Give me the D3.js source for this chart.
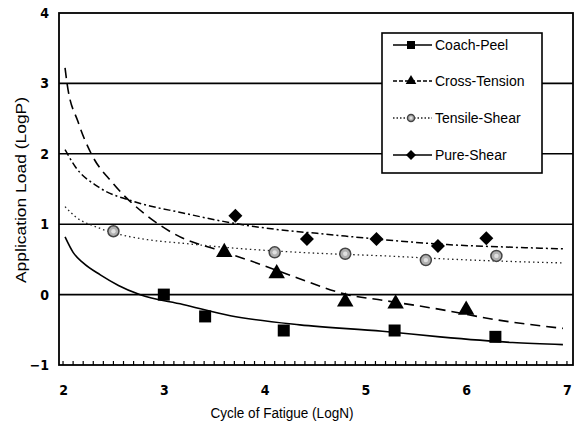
<!DOCTYPE html>
<html>
<head>
<meta charset="utf-8">
<script src="https://cdn.jsdelivr.net/npm/d3@7.9.0/dist/d3.min.js"></script>
<style>
  body { margin: 0; background: #fff; }
  svg { display: block; }
  .tick-num { font-family: "Liberation Sans Narrow", "DejaVu Sans Condensed", sans-serif; font-weight: bold; font-size: 14px; }
  .title { font-family: "Liberation Sans", Arial, sans-serif; font-size: 14px; }
  .legend text { font-family: "Liberation Sans", Arial, sans-serif; font-size: 14px; }
</style>
</head>
<body>
<div id="chart"></div>
<script>
// fitted curves: [logN, logP]
const coachCurve = [[2.02,0.82],[2.1,0.6],[2.2,0.45],[2.37,0.28],[2.55,0.13],[2.76,0.0],[3.19,-0.14],[3.66,-0.3],[4.35,-0.43],[5.17,-0.52],[5.74,-0.6],[6.46,-0.68],[6.96,-0.71]];
const crossCurve = [[2.02,3.22],[2.04,3.0],[2.15,2.45],[2.28,2.0],[2.49,1.59],[2.88,1.07],[3.19,0.8],[3.5,0.65],[3.92,0.45],[4.32,0.24],[4.82,0.0],[5.17,-0.08],[5.74,-0.21],[6.31,-0.36],[6.96,-0.48]];
const tensileCurve = [[2.02,1.25],[2.12,1.11],[2.35,0.95],[2.84,0.78],[3.18,0.73],[3.7,0.66],[4.35,0.6],[5.34,0.54],[5.74,0.51],[6.46,0.47],[6.96,0.45]];
const pureCurve = [[2.02,2.06],[2.12,1.82],[2.35,1.53],[2.71,1.32],[3.19,1.16],[3.59,1.04],[4.15,0.92],[4.52,0.87],[5.34,0.76],[5.81,0.71],[6.31,0.68],[6.96,0.65]];

// test points
const coachPts = [[3.0,0.0],[3.41,-0.31],[4.19,-0.51],[5.29,-0.51],[6.29,-0.6]];
const crossPts = [[3.6,0.6],[4.12,0.3],[4.8,-0.1],[5.3,-0.13],[6.0,-0.22]];
const tensilePts = [[2.5,0.9],[4.1,0.6],[4.8,0.58],[5.6,0.49],[6.3,0.55]];
const purePts = [[3.71,1.12],[4.42,0.79],[5.11,0.79],[5.72,0.69],[6.2,0.8]];

const xTicks = [2, 3, 4, 5, 6, 7];
const yTicks = [-1, 0, 1, 2, 3, 4];
const gridValues = [0, 1, 2, 3];
const seriesNames = ['Coach-Peel', 'Cross-Tension', 'Tensile-Shear', 'Pure-Shear'];

const width = 574;
const height = 443;
const margin = { top: 13, right: 1, bottom: 78, left: 59 };

const svg = d3.select('#chart').append('svg')
  .attr('width', width)
  .attr('height', height);

const x = d3.scaleLinear().domain([1.96, 7.06]).range([margin.left, width - margin.right]);
const y = d3.scaleLinear().domain([-1, 4]).range([height - margin.bottom, margin.top]);

// horizontal grid lines
svg.append('g')
  .selectAll('line')
  .data(gridValues)
  .join('line')
  .attr('x1', x.range()[0]).attr('x2', x.range()[1])
  .attr('y1', d => y(d)).attr('y2', d => y(d))
  .attr('stroke', '#000').attr('stroke-width', 1.6);

// plot frame
svg.append('rect')
  .attr('x', x.range()[0]).attr('y', y.range()[1])
  .attr('width', x.range()[1] - x.range()[0])
  .attr('height', y.range()[0] - y.range()[1])
  .attr('fill', 'none').attr('stroke', '#000').attr('stroke-width', 1.8);

// minor ticks on bottom axis (inward)
svg.append('g')
  .selectAll('line')
  .data(d3.range(20, 71).map(d => d / 10))
  .join('line')
  .attr('x1', d => x(d)).attr('x2', d => x(d))
  .attr('y1', y(-1)).attr('y2', y(-1) - 4)
  .attr('stroke', '#000').attr('stroke-width', 1.2);

// axes labels via d3 axes
const xAxis = svg.append('g')
  .attr('transform', `translate(0, ${y(-1)})`)
  .call(d3.axisBottom(x).tickValues(xTicks).tickSize(0).tickPadding(20).tickFormat(d3.format('d')));
xAxis.select('.domain').remove();
xAxis.selectAll('text').attr('class', 'tick-num').attr('fill', '#000');

const yAxis = svg.append('g')
  .attr('transform', `translate(${x.range()[0]}, 0)`)
  .call(d3.axisLeft(y).tickValues(yTicks).tickSize(0).tickPadding(10).tickFormat(d3.format('d')));
yAxis.select('.domain').remove();
yAxis.selectAll('text').attr('class', 'tick-num').attr('fill', '#000');

svg.append('text')
  .attr('class', 'title')
  .attr('x', 282).attr('y', 418)
  .attr('text-anchor', 'middle')
  .attr('textLength', 143)
  .attr('lengthAdjust', 'spacingAndGlyphs')
  .text('Cycle of Fatigue (LogN)');

svg.append('text')
  .attr('class', 'title')
  .attr('transform', 'translate(26, 190) rotate(-90)')
  .attr('text-anchor', 'middle')
  .attr('textLength', 186)
  .attr('lengthAdjust', 'spacingAndGlyphs')
  .text('Application Load (LogP)');

const line = d3.line()
  .x(d => x(d[0]))
  .y(d => y(d[1]))
  .curve(d3.curveMonotoneX);

const styles = [
  { dash: null, width: 1.6, color: '#000' },
  { dash: '10,6', width: 1.6, color: '#000' },
  { dash: '1.5,3', width: 1.3, color: '#222' },
  { dash: '7,3,2,3', width: 1.5, color: '#000' },
];

const curves = [coachCurve, crossCurve, tensileCurve, pureCurve];
svg.append('g')
  .selectAll('path')
  .data(curves)
  .join('path')
  .attr('d', line)
  .attr('fill', 'none')
  .attr('stroke', (d, i) => styles[i].color)
  .attr('stroke-width', (d, i) => styles[i].width)
  .attr('stroke-dasharray', (d, i) => styles[i].dash);

// markers
function drawMarker(g, type, size) {
  if (type === 'square') {
    g.append('rect').attr('x', -size / 2).attr('y', -size / 2)
      .attr('width', size).attr('height', size).attr('fill', '#000');
  } else if (type === 'triangle') {
    g.append('path').attr('d', d3.symbol(d3.symbolTriangle, size * size * 0.6)).attr('fill', '#000');
  } else if (type === 'circle') {
    g.append('circle').attr('r', size / 2).attr('fill', '#b0b0b0')
      .attr('stroke', '#444').attr('stroke-width', 1.5);
    g.append('circle').attr('r', size / 5).attr('fill', '#e0e0e0');
  } else {
    const s = size / Math.SQRT2;
    g.append('rect').attr('x', -s / 2).attr('y', -s / 2)
      .attr('width', s).attr('height', s)
      .attr('transform', 'rotate(45)').attr('fill', '#000');
  }
}

const markerTypes = ['square', 'triangle', 'circle', 'diamond'];
const markerSizes = [12, 14, 11, 14];
const pointSets = [coachPts, crossPts, tensilePts, purePts];

pointSets.forEach((pts, i) => {
  svg.append('g')
    .selectAll('g')
    .data(pts)
    .join('g')
    .attr('transform', d => `translate(${x(d[0])}, ${y(d[1])})`)
    .each(function () { drawMarker(d3.select(this), markerTypes[i], markerSizes[i]); });
});

// legend
const legend = svg.append('g').attr('class', 'legend');
legend.append('rect')
  .attr('x', 382).attr('y', 33).attr('width', 160).attr('height', 140)
  .attr('fill', '#fff').attr('stroke', '#000').attr('stroke-width', 1.6);

const rowY = [45, 81, 118, 155];
seriesNames.forEach((name, i) => {
  const row = legend.append('g').attr('transform', `translate(0, ${rowY[i]})`);
  row.append('line')
    .attr('x1', 393).attr('x2', 432)
    .attr('stroke', styles[i].color)
    .attr('stroke-width', styles[i].width)
    .attr('stroke-dasharray', i === 0 ? null : (i === 1 ? '4,2' : (i === 2 ? '1.5,2' : null)));
  const m = row.append('g').attr('transform', 'translate(411, 0)');
  drawMarker(m, markerTypes[i], [8, 9, 7, 10][i]);
  row.append('text')
    .attr('x', 435).attr('y', 5)
    .text(name);
});
</script>
</body>
</html>
